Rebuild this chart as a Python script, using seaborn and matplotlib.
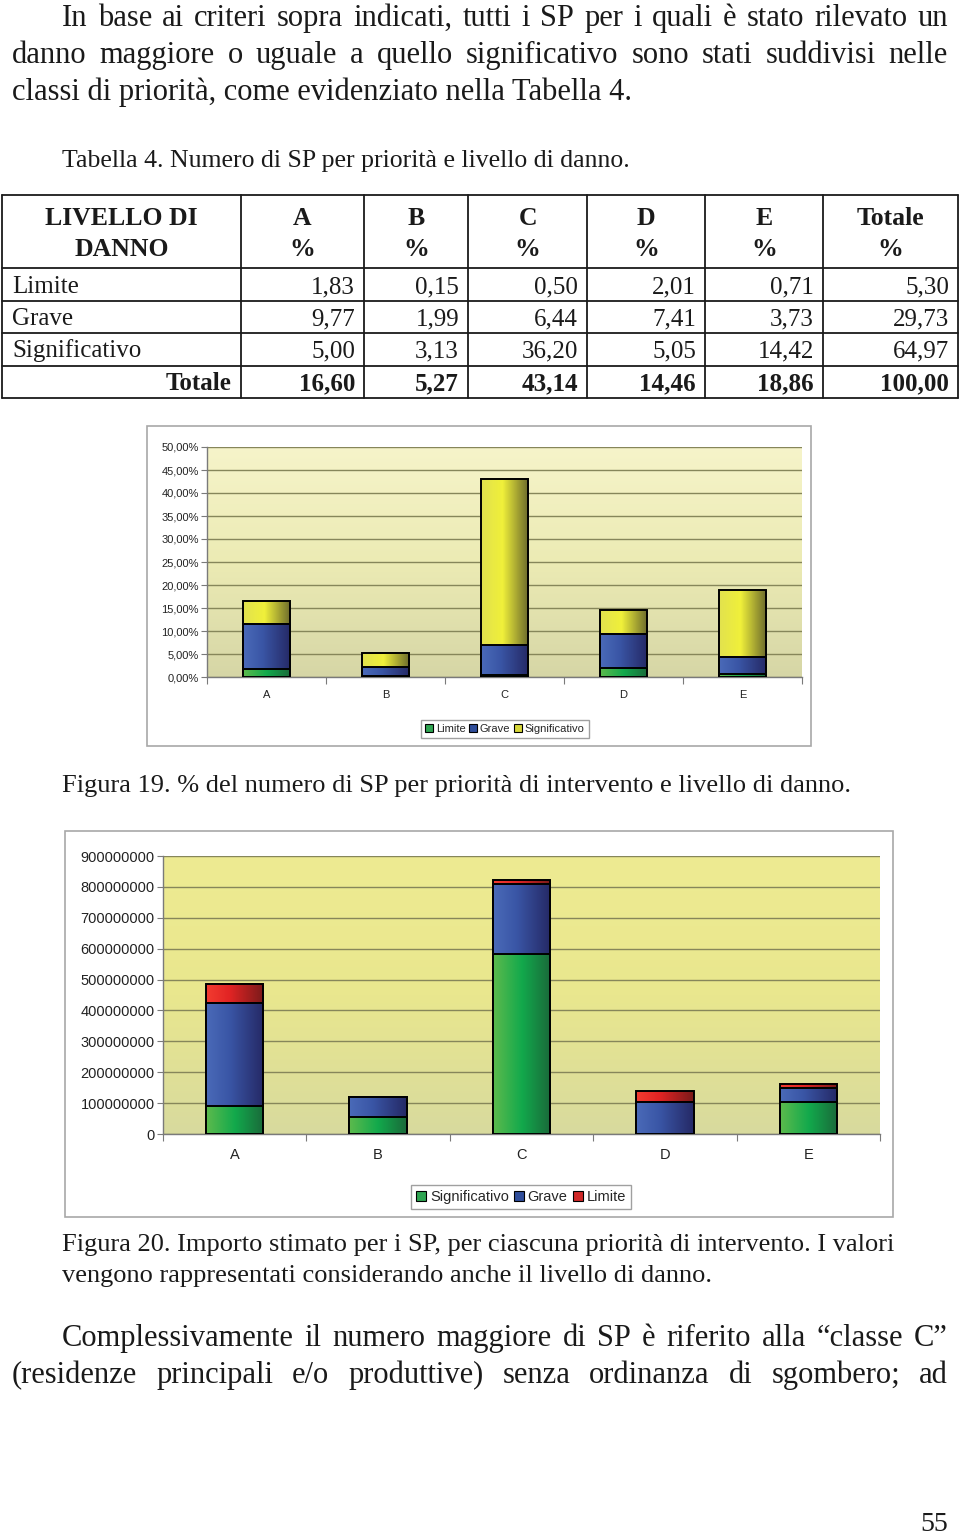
import numpy as np
import matplotlib
matplotlib.use("Agg")
import matplotlib.pyplot as plt
import seaborn as sns
from matplotlib.colors import LinearSegmentedColormap
from matplotlib.patches import Patch, Rectangle
from matplotlib.ticker import FuncFormatter

sns.set_theme(style="white")
plt.rcParams["font.family"] = ["Liberation Sans", "DejaVu Sans"]
SERIF = ["Liberation Serif", "DejaVu Serif"]

W, H = 960, 1535

priorita = ["A", "B", "C", "D", "E"]
livelli = ["Limite", "Grave", "Significativo"]

# Tabella 4 - % del numero di SP
limite_pct = [1.83, 0.15, 0.50, 2.01, 0.71]
grave_pct = [9.77, 1.99, 6.44, 7.41, 3.73]
signif_pct = [5.00, 3.13, 36.20, 5.05, 14.42]
totale_col = [16.60, 5.27, 43.14, 14.46, 18.86]
totale_riga = [5.30, 29.73, 64.97, 100.00]

# Figura 20 - importo stimato
signif_eur = [90e6, 55e6, 583e6, 0, 103e6]
grave_eur = [335e6, 64e6, 225e6, 103e6, 46e6]
limite_eur = [61e6, 2e6, 14e6, 35e6, 14e6]

fig = plt.figure(figsize=(W / 100, H / 100), dpi=100)
page = fig.add_axes([0, 0, 1, 1])
page.set_xlim(0, W)
page.set_ylim(H, 0)
page.axis("off")

INK = "#1a1a1a"


def riga(txt, x0, y, size, x1=None, weight="normal", ha="left"):
    if x1 is None:
        page.text(x0, y, txt, fontsize=size, family=SERIF, color=INK,
                  va="baseline", ha=ha, weight=weight)
        return
    words = txt.split(" ")
    arts = [page.text(0, y, w, fontsize=size, family=SERIF, color=INK,
                      va="baseline", ha="left", weight=weight) for w in words]
    r = fig.canvas.get_renderer()
    widths = [a.get_window_extent(r).width for a in arts]
    gap = (x1 - x0 - sum(widths)) / (len(words) - 1)
    x = x0
    for a, w in zip(arts, widths):
        a.set_x(x)
        x += w + gap


# testo sopra
riga("In base ai criteri sopra indicati, tutti i SP per i quali è stato rilevato un", 62, 26, 22, 948)
riga("danno maggiore o uguale a quello significativo sono stati suddivisi nelle", 12, 63, 22, 948)
riga("classi di priorità, come evidenziato nella Tabella 4.", 12, 100, 22)
riga("Tabella 4. Numero di SP per priorità e livello di danno.", 62, 167, 18.5)

# tabella
xs = [2, 241, 364, 468, 587, 705, 823, 958]
ys = [195, 268, 301, 333, 366, 398]
for x in xs:
    page.plot([x, x], [ys[0], ys[-1]], color=INK, lw=1.3)
for y in ys:
    page.plot([xs[0], xs[-1]], [y, y], color=INK, lw=1.3)

riga("LIVELLO DI", (xs[0] + xs[1]) / 2, 225, 18.5, weight="bold", ha="center")
riga("DANNO", (xs[0] + xs[1]) / 2, 256, 18.5, weight="bold", ha="center")
for i, h in enumerate(priorita + ["Totale"]):
    cx = (xs[i + 1] + xs[i + 2]) / 2
    riga(h, cx, 225, 18.5, weight="bold", ha="center")
    riga("%", cx, 256, 18.5, weight="bold", ha="center")

fmt_it = lambda v: f"{v:.2f}".replace(".", ",")
righe = [limite_pct, grave_pct, signif_pct]
base = [293, 325, 357, 390]
for j, (nome, vals) in enumerate(zip(livelli, righe)):
    riga(nome, 12, base[j], 18)
    for i, v in enumerate(vals + [totale_riga[j]]):
        riga(fmt_it(v), xs[i + 2] - 9, base[j], 18, ha="right")
riga("Totale", xs[1] - 10, base[3], 18, weight="bold", ha="right")
for i, v in enumerate(totale_col + [totale_riga[3]]):
    riga(fmt_it(v), xs[i + 2] - 9, base[3], 18, weight="bold", ha="right")

riga("Figura 19. % del numero di SP per priorità di intervento e livello di danno.", 62, 792, 19)
riga("Figura 20. Importo stimato per i SP, per ciascuna priorità di intervento. I valori", 62, 1251, 19)
riga("vengono rappresentati considerando anche il livello di danno.", 62, 1282, 19)
riga("Complessivamente il numero maggiore di SP è riferito alla “classe C”", 62, 1346, 22, 948)
riga("(residenze principali e/o produttive) senza ordinanza di sgombero; ad", 12, 1383, 22, 948)
riga("55", 948, 1531, 20, ha="right")

# colori
cm_yel = LinearSegmentedColormap.from_list("y", [(0, "#e2e24e"), (0.45, "#f0f03a"), (1, "#6c6a2c")])
cm_blu = LinearSegmentedColormap.from_list("b", [(0, "#4a6ab8"), (0.4, "#3a56a6"), (1, "#252966")])
cm_grn = LinearSegmentedColormap.from_list("g", [(0, "#5cba4c"), (0.5, "#12a94c"), (1, "#1a6a3a")])
cm_red = LinearSegmentedColormap.from_list("r", [(0, "#f23c30"), (0.4, "#e22424"), (1, "#7a1a1a")])


def sfuma(ax, patches, cmap, z):
    for p in patches:
        x, y = p.get_x(), p.get_y()
        w, h = p.get_width(), p.get_height()
        if h <= 0:
            p.set_visible(False)
            continue
        ax.imshow(np.linspace(0, 1, 64)[None, :], cmap=cmap, extent=[x, x + w, y, y + h],
                  aspect="auto", zorder=z, interpolation="bilinear")
        p.set_facecolor("none")
        p.set_edgecolor("black")
        p.set_linewidth(1.4)
        p.set_zorder(z + 0.05)


def grafico(box, rect, strati, bg, ymax, step, yfmt, fs, leg, pad_x):
    bx0, by0, bx1, by1 = box
    page.add_patch(Rectangle((bx0, by0), bx1 - bx0, by1 - by0, facecolor="white",
                             edgecolor="#a8a8a8", lw=1.2))
    x0, y0, x1, y1 = rect
    ax = fig.add_axes([x0 / W, 1 - y1 / H, (x1 - x0) / W, (y1 - y0) / H])
    # strati: (valori cumulati, colore, cmap) dal piu alto al piu basso
    z = 2
    for vals, col, cmap in strati:
        n = len(ax.patches)
        sns.barplot(x=priorita, y=vals, color=col, width=0.4, errorbar=None, ax=ax)
        sfuma(ax, ax.patches[n:], cmap, z)
        z += 1
    bgcm = LinearSegmentedColormap.from_list("bg", bg)
    ax.imshow(np.linspace(0, 1, 256)[:, None], cmap=bgcm, extent=[-0.5, 4.5, 0, ymax],
              aspect="auto", zorder=0.1)
    ax.set_xlim(-0.5, 4.5)
    ax.set_ylim(0, ymax)
    ax.set_yticks(np.arange(0, ymax + step / 2, step))
    ax.yaxis.set_major_formatter(FuncFormatter(yfmt))
    ax.set_xticks(range(len(priorita)))
    ax.set_xticklabels(priorita)
    ax.set_xticks(np.arange(-0.5, 5, 1), minor=True)
    ax.set_axisbelow(True)
    ax.yaxis.grid(True, color="#86865a", lw=1)
    ax.xaxis.grid(False)
    ax.set_xlabel("")
    ax.set_ylabel("")
    for s in ["top", "right"]:
        ax.spines[s].set_visible(False)
    for s in ["left", "bottom"]:
        ax.spines[s].set_color("#7a7a7a")
        ax.spines[s].set_linewidth(1)
    ax.tick_params(axis="y", left=True, length=4, width=0.8, color="#7a7a7a",
                   labelsize=fs, pad=2, labelcolor="#222222")
    ax.tick_params(axis="x", which="major", bottom=False, length=0, labelsize=fs,
                   pad=pad_x, labelcolor="#222222")
    ax.tick_params(axis="x", which="minor", bottom=True, length=5, width=0.8, color="#7a7a7a")
    cx, cy, handles = leg
    lg = fig.legend(handles=handles, loc="center", bbox_to_anchor=(cx / W, 1 - cy / H),
                    ncol=3, fontsize=fs, frameon=True, fancybox=False, edgecolor="#a0a0a0",
                    framealpha=1, handlelength=0.7, handleheight=0.7, handletextpad=0.25,
                    columnspacing=0.35, borderpad=0.35)
    lg.get_frame().set_linewidth(1)
    return ax


# Figura 19
c1 = np.array(limite_pct)
c2 = c1 + np.array(grave_pct)
c3 = c2 + np.array(signif_pct)
grafico(
    (147, 426, 811, 746), (207, 447, 802, 677),
    [(c3, "#e0e040", cm_yel), (c2, "#3a56a6", cm_blu), (c1, "#22a04c", cm_grn)],
    ["#f6f4ca", "#ecebb4", "#d6d6a6"], 50, 5,
    lambda v, _: f"{v:.2f}".replace(".", ",") + "%", 8,
    (505, 729, [Patch(facecolor="#2fa552", edgecolor="black", lw=0.8, label="Limite"),
                Patch(facecolor="#2f4d9a", edgecolor="black", lw=0.8, label="Grave"),
                Patch(facecolor="#d8d83a", edgecolor="black", lw=0.8, label="Significativo")]),
    9,
)

# Figura 20
e1 = np.array(signif_eur)
e2 = e1 + np.array(grave_eur)
e3 = e2 + np.array(limite_eur)
grafico(
    (65, 831, 893, 1217), (163, 856, 880, 1134),
    [(e3, "#e22424", cm_red), (e2, "#3a56a6", cm_blu), (e1, "#22a04c", cm_grn)],
    ["#eeeb92", "#e9e78e", "#d8da9e"], 900e6, 100e6,
    lambda v, _: f"{v:.0f}", 10.5,
    (521, 1197, [Patch(facecolor="#2fa552", edgecolor="black", lw=0.8, label="Significativo"),
                 Patch(facecolor="#2f4d9a", edgecolor="black", lw=0.8, label="Grave"),
                 Patch(facecolor="#d02828", edgecolor="black", lw=0.8, label="Limite")]),
    10,
)

fig.savefig("out.png", dpi=100, facecolor="white")
